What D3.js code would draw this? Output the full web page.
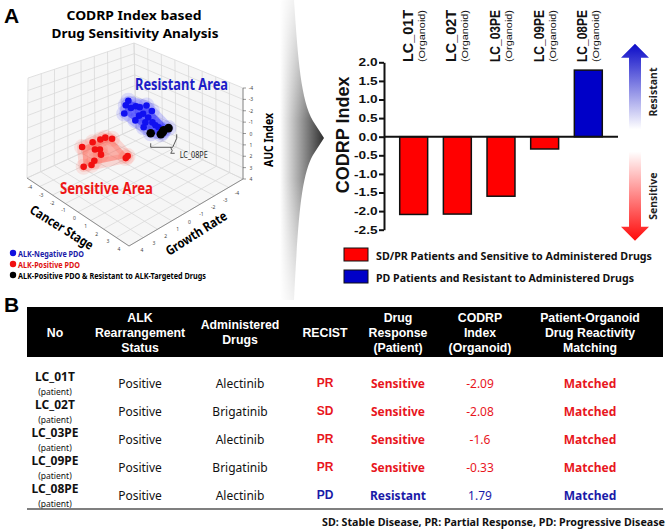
<!DOCTYPE html>
<html>
<head>
<meta charset="utf-8">
<script src="https://cdn.jsdelivr.net/npm/d3@7"></script>
<style>
  body { margin: 0; background: #fff; }
  svg { display: block; }
</style>
</head>
<body>
<svg id="fig" width="669" height="531"></svg>
<script>
// --------- DATA ---------

// bar chart (panel A, right)
const organoids = ["LC_01T", "LC_02T", "LC_03PE", "LC_09PE", "LC_08PE"];
const codrpIndex = [-2.09, -2.08, -1.6, -0.33, 1.79];
const barGroup = ["sensitive", "sensitive", "sensitive", "sensitive", "resistant"];
const yTicks = [-2.5, -2.0, -1.5, -1.0, -0.5, 0, 0.5, 1.0, 1.5, 2.0];
const barLegend = ["SD/PR Patients and Sensitive to Administered Drugs",
                   "PD Patients and Resistant to Administered Drugs"];

// table (panel B)
const headers = [["No"], ["ALK", "Rearrangement", "Status"], ["Administered", "Drugs"], ["RECIST"],
                 ["Drug", "Response", "(Patient)"], ["CODRP", "Index", "(Organoid)"],
                 ["Patient-Organoid", "Drug Reactivity", "Matching"]];
const alkStatus = ["Positive", "Positive", "Positive", "Positive", "Positive"];
const drugs = ["Alectinib", "Brigatinib", "Alectinib", "Brigatinib", "Alectinib"];
const recist = ["PR", "SD", "PR", "PR", "PD"];
const response = ["Sensitive", "Sensitive", "Sensitive", "Sensitive", "Resistant"];
const matching = ["Matched", "Matched", "Matched", "Matched", "Matched"];
const footnote = "SD: Stable Disease, PR: Partial Response, PD: Progressive Disease";

// 3D scatter (panel A, left): [cancer stage, growth rate, AUC index]
const alkNegative = [[-1.99, -1.53, -1], [-1.71, -1.07, -1], [-1.09, -0.36, -1], [-1.30, -1.05, -1],
  [-1.28, -1.38, -1], [-1.06, -1.46, -1], [-0.97, -1.87, -1], [-0.33, -1.64, -1], [-0.42, -1.09, -1],
  [-0.41, -0.79, -1], [0.06, -1.0, -1], [0.34, -0.53, -1], [0.59, -0.80, -1], [0.92, -0.70, -1],
  [0.65, -0.11, -1], [1.18, -0.68, -1], [-0.17, -0.29, -1]];
const alkPositive = [[-2.67, 1.22, 2], [-2.67, 0.45, 2], [-2.62, -0.07, 2], [-2.59, -0.40, 2],
  [-2.27, -0.59, 2], [-2.06, 0.86, 2], [-1.88, 0.67, 2], [-1.47, 0.98, 2], [-1.25, 1.67, 2],
  [-1.05, 2.06, 2], [-1.18, 2.51, 2], [-0.35, 0.24, 2], [-0.43, 0.03, 2]];
const alkResistant = [[1.36, 0.05, -1], [1.79, -0.27, -1], [1.71, -0.48, -1], [1.59, -0.66, -1], [1.61, -0.99, -1]];
const ticks3d = [-4, -3, -2, -1, 0, 1, 2, 3, 4];
const scatterLegend = ["ALK-Negative PDO", "ALK-Positive PDO", "ALK-Positive PDO & Resistant to ALK-Targeted Drugs"];

const RED = "#ff0000", BLUE = "#0000c8", TRED = "#e8161e", TBLUE = "#1a1aa8";
const ARIAL = "Liberation Sans, Arial, sans-serif";
const GOTHIC = "Noto Sans, Open Sans, sans-serif";

const svg = d3.select("#fig");
const defs = svg.append("defs");

// panel letters
svg.append("text").attr("x", 4).attr("y", 23).text("A")
    .attr("font-family", ARIAL).attr("font-weight", "bold").attr("font-size", 21);
svg.append("text").attr("x", 4).attr("y", 312).text("B")
    .attr("font-family", ARIAL).attr("font-weight", "bold").attr("font-size", 21);

// --------- 3D SCATTER ---------

const unit = d3.scaleLinear().domain([-4, 4]).range([0, 1]);
// screen position of the cube corners, index [cancer stage][growth rate][AUC], 0 = -4, 1 = +4
const corner = [
  [[[134, 43], [136, 128]], [[28, 78], [27, 178]]],
  [[[243, 88], [243, 179]], [[129, 142], [129, 246]]]
];
function proj(cs, gr, z) {
  const a = unit(cs), b = unit(gr), c = unit(z);
  let x = 0, y = 0;
  for (const i of [0, 1]) for (const j of [0, 1]) for (const k of [0, 1]) {
    const w = (i ? a : 1 - a) * (j ? b : 1 - b) * (k ? c : 1 - c);
    x += w * corner[i][j][k][0];
    y += w * corner[i][j][k][1];
  }
  return [x, y];
}

const g3 = svg.append("g");
const panes = [
  [[-4, -4, 4], [4, -4, 4], [4, 4, 4], [-4, 4, 4]],
  [[-4, -4, -4], [-4, 4, -4], [-4, 4, 4], [-4, -4, 4]],
  [[-4, -4, -4], [4, -4, -4], [4, -4, 4], [-4, -4, 4]]
];
g3.selectAll("path.pane").data(panes).join("path")
    .attr("d", p => "M" + p.map(q => proj(...q).join(",")).join("L") + "Z")
    .attr("fill", "#f6f6f6").attr("stroke", "none");

const gridSegs = [];
ticks3d.forEach(t => {
  gridSegs.push([[t, -4, 4], [t, 4, 4]], [[-4, t, 4], [4, t, 4]]);      // floor
  gridSegs.push([[-4, t, -4], [-4, t, 4]], [[-4, -4, t], [-4, 4, t]]);  // left wall
  gridSegs.push([[t, -4, -4], [t, -4, 4]], [[-4, -4, t], [4, -4, t]]);  // right wall
});
g3.selectAll("line.grid").data(gridSegs).join("line")
    .attr("x1", d => proj(...d[0])[0]).attr("y1", d => proj(...d[0])[1])
    .attr("x2", d => proj(...d[1])[0]).attr("y2", d => proj(...d[1])[1])
    .attr("stroke", "#d9d9d9").attr("stroke-width", 0.8);

// axis edges
const edges = [[[-4, 4, 4], [4, 4, 4]], [[4, 4, 4], [4, -4, 4]], [[4, -4, -4], [4, -4, 4]]];
g3.selectAll("line.edge").data(edges).join("line")
    .attr("x1", d => proj(...d[0])[0]).attr("y1", d => proj(...d[0])[1])
    .attr("x2", d => proj(...d[1])[0]).attr("y2", d => proj(...d[1])[1])
    .attr("stroke", "#777").attr("stroke-width", 0.8);

// tick labels
const csOff = d3.scaleLinear().domain([-4, 4]).range([[3, 9], [-10, 3]]);
const grOff = d3.scaleLinear().domain([-4, 4]).range([[-6, 14], [13, 4]]);
const tickStyle = s => s.attr("font-family", GOTHIC).attr("font-size", 5).attr("fill", "#444")
    .attr("text-anchor", "middle").attr("dominant-baseline", "central");
g3.selectAll("text.cs").data(ticks3d).join("text")
    .attr("x", t => proj(t, 4, 4)[0] + csOff(t)[0]).attr("y", t => proj(t, 4, 4)[1] + csOff(t)[1])
    .text(t => t).call(tickStyle);
g3.selectAll("text.gr").data(ticks3d).join("text")
    .attr("x", t => proj(4, t, 4)[0] + grOff(t)[0]).attr("y", t => proj(4, t, 4)[1] + grOff(t)[1])
    .text(t => t).call(tickStyle);
g3.selectAll("text.auc").data(ticks3d).join("text")
    .attr("x", t => proj(4, -4, t)[0] + 8).attr("y", t => proj(4, -4, t)[1])
    .text(t => t).call(tickStyle);
g3.selectAll("line.auc").data(ticks3d).join("line")
    .attr("x1", t => proj(4, -4, t)[0]).attr("x2", t => proj(4, -4, t)[0] + 3)
    .attr("y1", t => proj(4, -4, t)[1]).attr("y2", t => proj(4, -4, t)[1])
    .attr("stroke", "#555").attr("stroke-width", 0.6);

// axis titles
const axisTitle = (txt, x, y, rot, len) => g3.append("text")
    .attr("transform", `translate(${x},${y}) rotate(${rot})`)
    .attr("text-anchor", "middle").attr("dominant-baseline", "central")
    .attr("font-family", GOTHIC).attr("font-weight", "bold").attr("font-size", 13)
    .attr("textLength", len).attr("lengthAdjust", "spacingAndGlyphs").text(txt);
axisTitle("Cancer Stage", 62, 227, 32, 72);
axisTitle("Growth Rate", 196, 233, -32.5, 70);
axisTitle("AUC Index", 268, 140, -90, 54);

// clusters: soft halo around every point, translucent hull, then the points
function halo(pts, color, alpha) {
  const gc = g3.append("g");
  gc.selectAll("circle").data(pts).join("circle")
      .attr("cx", p => p[0]).attr("cy", p => p[1]).attr("r", 8)
      .attr("fill", color).attr("opacity", 0.13);
  const hull = d3.polygonHull(pts);
  gc.append("path").attr("d", "M" + hull.join("L") + "Z")
      .attr("fill", color).attr("fill-opacity", alpha)
      .attr("stroke", color).attr("stroke-opacity", 0.2).attr("stroke-width", 10)
      .attr("stroke-linejoin", "round");
}
halo(alkPositive.map(d => proj(...d)), "#ff5a4a", 0.45);
halo(alkNegative.concat(alkResistant).map(d => proj(...d)), "#2a2aff", 0.5);

g3.selectAll("circle.pos").data(alkPositive).join("circle")
    .attr("cx", d => proj(...d)[0]).attr("cy", d => proj(...d)[1]).attr("r", 3.3).attr("fill", "#f21010");
g3.selectAll("circle.neg").data(alkNegative).join("circle")
    .attr("cx", d => proj(...d)[0]).attr("cy", d => proj(...d)[1]).attr("r", 3.3).attr("fill", "#1010f0");
g3.selectAll("circle.res").data(alkResistant).join("circle")
    .attr("cx", d => proj(...d)[0]).attr("cy", d => proj(...d)[1]).attr("r", 4.3).attr("fill", "#000");

// LC_08PE callout, anchored on the resistant points
const [ax, ay] = proj(...alkResistant[0]);
g3.append("path")
    .attr("d", `M${ax},${ay + 10} v4 h22 l4,-9 v-4 M${ax + 20},${ay + 14} q3,4 0,6 h4`)
    .attr("fill", "none").attr("stroke", "#333").attr("stroke-width", 0.8);
g3.append("text").attr("x", ax + 29).attr("y", ay + 21).attr("dominant-baseline", "central")
    .attr("font-family", GOTHIC).attr("font-size", 8.5).attr("fill", "#222")
    .attr("textLength", 28).attr("lengthAdjust", "spacingAndGlyphs").text("LC_08PE");

// area labels
g3.append("text").attr("x", 135).attr("y", 84).attr("dominant-baseline", "central")
    .attr("font-family", GOTHIC).attr("font-weight", "bold").attr("font-size", 15.5).attr("fill", "#1c1cc8")
    .attr("textLength", 93).attr("lengthAdjust", "spacingAndGlyphs").text("Resistant Area");
g3.append("text").attr("x", 60).attr("y", 188).attr("dominant-baseline", "central")
    .attr("font-family", GOTHIC).attr("font-weight", "bold").attr("font-size", 15.5).attr("fill", "#ee1515")
    .attr("textLength", 93).attr("lengthAdjust", "spacingAndGlyphs").text("Sensitive Area");

// title
const titleStyle = s => s.attr("text-anchor", "middle").attr("dominant-baseline", "central")
    .attr("font-family", GOTHIC).attr("font-weight", "bold").attr("font-size", 13);
svg.append("text").attr("x", 134).attr("y", 15).call(titleStyle)
    .attr("textLength", 135).attr("lengthAdjust", "spacingAndGlyphs").text("CODRP Index based");
svg.append("text").attr("x", 135).attr("y", 33).call(titleStyle)
    .attr("textLength", 167).attr("lengthAdjust", "spacingAndGlyphs").text("Drug Sensitivity Analysis");

// scatter legend
const legColors = ["#1010e0", "#f01010", "#000"];
const legText = [TBLUE, "#e01010", "#000"];
const legLen = [66, 62, 188];
scatterLegend.forEach((t, i) => {
  const ly = 253 + i * 11;
  svg.append("circle").attr("cx", 13).attr("cy", ly).attr("r", 3.2).attr("fill", legColors[i]);
  svg.append("text").attr("x", 18).attr("y", ly).attr("dominant-baseline", "central")
      .attr("font-family", GOTHIC).attr("font-weight", "bold").attr("font-size", 8).attr("fill", legText[i])
      .attr("textLength", legLen[i]).attr("lengthAdjust", "spacingAndGlyphs").text(t);
});

// --------- BIG GREY ARROW ---------

const sg = defs.append("linearGradient").attr("id", "swoosh").attr("x1", 0).attr("x2", 1).attr("y1", 0).attr("y2", 0);
sg.append("stop").attr("offset", "0%").attr("stop-color", "#fff");
sg.append("stop").attr("offset", "100%").attr("stop-color", "#2e2e2e");
const fade = defs.append("linearGradient").attr("id", "fade").attr("x1", 0).attr("x2", 0).attr("y1", 0).attr("y2", 1);
fade.append("stop").attr("offset", "0%").attr("stop-color", "#333");
fade.append("stop").attr("offset", "40%").attr("stop-color", "#fff");
fade.append("stop").attr("offset", "60%").attr("stop-color", "#fff");
fade.append("stop").attr("offset", "100%").attr("stop-color", "#333");
defs.append("mask").attr("id", "fadeMask").attr("maskContentUnits", "userSpaceOnUse")
    .append("rect").attr("x", 270).attr("y", 0).attr("width", 70).attr("height", 300).attr("fill", "url(#fade)");
svg.append("path")
    .attr("d", "M280,0 L294,0 C298,60 301,100 313,121 L324,138 L313,155 C301,176 298,220 294,300 L280,300 Z")
    .attr("fill", "url(#swoosh)").attr("mask", "url(#fadeMask)");

// --------- BAR CHART ---------

const x = d3.scaleBand().domain(organoids).range([384, 618]).padding(0.36);
const y = d3.scaleLinear().domain([-2.5, 2.0]).range([229.7, 62.3]);

const gb = svg.append("g");
gb.selectAll("rect.bar").data(codrpIndex).join("rect")
    .attr("x", (d, i) => x(organoids[i])).attr("width", x.bandwidth())
    .attr("y", d => y(Math.max(0, d))).attr("height", d => Math.abs(y(d) - y(0)))
    .attr("fill", (d, i) => barGroup[i] === "resistant" ? BLUE : RED)
    .attr("stroke", "#111").attr("stroke-width", 1.5);

gb.append("line").attr("x1", 384).attr("x2", 618).attr("y1", y(0)).attr("y2", y(0))
    .attr("stroke", "#111").attr("stroke-width", 2);

const yAxis = gb.append("g").attr("transform", "translate(384,0)")
    .call(d3.axisLeft(y).tickValues(yTicks).tickSize(5).tickSizeOuter(0).tickFormat(d => d.toFixed(1)));
yAxis.select(".domain").attr("stroke", "#111").attr("stroke-width", 2);
yAxis.selectAll(".tick line").attr("stroke", "#111").attr("stroke-width", 2);
yAxis.selectAll(".tick text").attr("font-family", ARIAL).attr("font-weight", "bold").attr("font-size", 10.5)
    .attr("fill", "#111").attr("x", -6.5 / 1.3).attr("transform", "scale(1.3,1)");

gb.append("text").attr("transform", `translate(349,${y(0.05)}) rotate(-90)`)
    .attr("text-anchor", "middle").attr("font-family", ARIAL).attr("font-weight", "bold").attr("font-size", 18)
    .attr("fill", "#111").text("CODRP Index");

// category labels above the plot
const lab = gb.selectAll("g.lab").data(organoids).join("g")
    .attr("transform", d => `translate(${x(d) + x.bandwidth() / 2},62)`);
lab.append("text").attr("transform", "translate(-1,0) rotate(-90)")
    .attr("font-family", ARIAL).attr("font-weight", "bold").attr("font-size", 14.4).attr("fill", "#111")
    .attr("textLength", 52).attr("lengthAdjust", "spacingAndGlyphs").text(d => d);
lab.append("text").attr("transform", "translate(11,0) rotate(-90)")
    .attr("font-family", ARIAL).attr("font-size", 9.5).attr("fill", "#111")
    .attr("textLength", 52).attr("lengthAdjust", "spacingAndGlyphs").text("(Organoid)");

// legend
barLegend.forEach((t, i) => {
  const ly = 248 + i * 22;
  gb.append("rect").attr("x", 344).attr("y", ly).attr("width", 24).attr("height", 13)
      .attr("fill", i === 0 ? RED : BLUE).attr("stroke", "#111").attr("stroke-width", 1);
  gb.append("text").attr("x", 376).attr("y", ly + 7).attr("dominant-baseline", "central")
      .attr("font-family", GOTHIC).attr("font-weight", "bold").attr("font-size", 11).attr("fill", "#111")
      .attr("textLength", i === 0 ? 276 : 258).attr("lengthAdjust", "spacingAndGlyphs").text(t);
});

// resistant / sensitive arrows
const ga = defs.append("linearGradient").attr("id", "resGrad").attr("x1", 0).attr("x2", 0).attr("y1", 0).attr("y2", 1);
ga.append("stop").attr("offset", "0%").attr("stop-color", "#0a0ac8");
ga.append("stop").attr("offset", "100%").attr("stop-color", "#fff");
const gs = defs.append("linearGradient").attr("id", "senGrad").attr("x1", 0).attr("x2", 0).attr("y1", 0).attr("y2", 1);
gs.append("stop").attr("offset", "0%").attr("stop-color", "#fff");
gs.append("stop").attr("offset", "100%").attr("stop-color", "#ff0a0a");
const ac = 635;
const rTop = y(2.5), rBot = y(0.2), sTop = y(-0.4), sBot = y(-2.8);
svg.append("path")
    .attr("d", `M${ac},${rTop} L${ac + 14},${rTop + 14} H${ac + 6} V${rBot} H${ac - 6} V${rTop + 14} H${ac - 14} Z`)
    .attr("fill", "url(#resGrad)");
svg.append("path")
    .attr("d", `M${ac},${sBot} L${ac + 14},${sBot - 14} H${ac + 6} V${sTop} H${ac - 6} V${sBot - 14} H${ac - 14} Z`)
    .attr("fill", "url(#senGrad)");
svg.append("text").attr("transform", `translate(657,${y(1.2)}) rotate(-90)`)
    .attr("text-anchor", "middle").attr("font-family", GOTHIC).attr("font-weight", "bold").attr("font-size", 10.5)
    .attr("fill", "#222").text("Resistant");
svg.append("text").attr("transform", `translate(657,${y(-1.6)}) rotate(-90)`)
    .attr("text-anchor", "middle").attr("font-family", GOTHIC).attr("font-weight", "bold").attr("font-size", 10.5)
    .attr("fill", "#222").text("Sensitive");

// --------- TABLE ---------

const colX = [55, 140, 240, 325, 398, 480, 590];
const tb = svg.append("g");
tb.append("rect").attr("x", 27).attr("y", 307).attr("width", 636).attr("height", 50).attr("fill", "#000");
headers.forEach((lines, c) => {
  const y0 = 332 - (lines.length - 1) * 7.5;
  lines.forEach((t, k) => {
    tb.append("text").attr("x", colX[c]).attr("y", y0 + k * 15 + 4.5).attr("text-anchor", "middle")
        .attr("font-family", ARIAL).attr("font-weight", "bold").attr("font-size", 12.3).attr("fill", "#fff").text(t);
  });
});

const rowY = i => 383 + i * 28;
const cellColor = i => response[i] === "Resistant" ? TBLUE : TRED;
organoids.forEach((name, i) => {
  const cy = rowY(i);
  tb.append("text").attr("x", colX[0]).attr("y", cy - 7).attr("text-anchor", "middle").attr("dominant-baseline", "central")
      .attr("font-family", GOTHIC).attr("font-weight", "bold").attr("font-size", 12).attr("fill", "#111").text(name);
  tb.append("text").attr("x", colX[0]).attr("y", cy + 8).attr("text-anchor", "middle").attr("dominant-baseline", "central")
      .attr("font-family", GOTHIC).attr("font-size", 8.5).attr("fill", "#111").text("(patient)");
  const cells = [
    [alkStatus[i], "normal", "#111"], [drugs[i], "normal", "#111"], [recist[i], "bold", cellColor(i)],
    [response[i], "bold", cellColor(i)], [String(codrpIndex[i]), "normal", cellColor(i)], [matching[i], "bold", cellColor(i)]
  ];
  cells.forEach((c, k) => {
    tb.append("text").attr("x", colX[k + 1]).attr("y", cy).attr("text-anchor", "middle").attr("dominant-baseline", "central")
        .attr("font-family", k === 2 ? ARIAL : GOTHIC).attr("font-weight", c[1]).attr("font-size", 12)
        .attr("fill", c[2]).text(c[0]);
  });
});
tb.append("line").attr("x1", 27).attr("x2", 663).attr("y1", 509).attr("y2", 509)
    .attr("stroke", "#555").attr("stroke-width", 1.5);
tb.append("text").attr("x", 665).attr("y", 522).attr("text-anchor", "end").attr("dominant-baseline", "central")
    .attr("font-family", GOTHIC).attr("font-weight", "bold").attr("font-size", 10).attr("fill", "#111")
    .attr("textLength", 343).attr("lengthAdjust", "spacingAndGlyphs").text(footnote);
</script>
</body>
</html>
